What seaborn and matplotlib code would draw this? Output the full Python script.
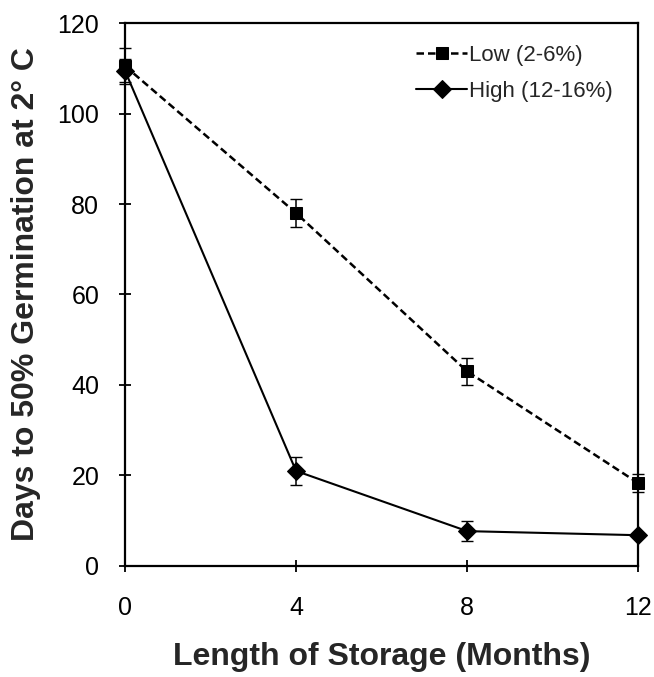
import pandas as pd
import matplotlib
matplotlib.use("Agg")
import matplotlib.pyplot as plt
import seaborn as sns

# storage months and mean days to 50% germination
months = [0, 4, 8, 12]
low_days = [110.5, 78, 43, 18.3]
low_err = [4, 3, 3, 2]
high_days = [109.5, 21, 7.7, 6.8]
high_err = [2.5, 3, 2.2, 0.5]

df = pd.concat([
    pd.DataFrame({"Months": months, "Days": low_days, "Moisture": "Low (2-6%)"}),
    pd.DataFrame({"Months": months, "Days": high_days, "Moisture": "High (12-16%)"}),
])

sns.set_theme(style="ticks")
plt.rcParams['font.family'] = ['Liberation Sans', 'DejaVu Sans']

fig = plt.figure(figsize=(6.54, 6.77), dpi=100)
ax = fig.add_axes([0.191, 0.164, 0.785, 0.802])

sns.lineplot(data=df, x="Months", y="Days", hue="Moisture", style="Moisture",
             markers={"Low (2-6%)": "s", "High (12-16%)": "D"},
             dashes={"Low (2-6%)": (3, 1.6), "High (12-16%)": ""},
             palette={"Low (2-6%)": "black", "High (12-16%)": "black"},
             markersize=9, linewidth=1.8, markeredgecolor="black", ax=ax)
for line in ax.lines:
    if line.get_linestyle() == "-":
        line.set_linewidth(1.5)

# error bars
ax.errorbar(months, low_days, yerr=low_err, fmt="none", ecolor="black",
            elinewidth=1.1, capsize=4)
ax.errorbar(months, high_days, yerr=high_err, fmt="none", ecolor="black",
            elinewidth=1.1, capsize=4)

ax.set_xlim(0, 12)
ax.set_ylim(0, 120)
ax.set_xticks([0, 4, 8, 12])
ax.set_yticks(range(0, 121, 20))
ax.tick_params(direction="inout", length=9, width=1.3, labelsize=18, colors="black")
ax.tick_params(axis="x", pad=17)
ax.tick_params(axis="y", pad=14)
for s in ax.spines.values():
    s.set_linewidth(1.6)
    s.set_color("black")
    s.set_visible(True)
ax.set_xlabel("Length of Storage (Months)", fontsize=23, fontweight="bold", labelpad=16)
ax.set_ylabel("Days to 50% Germination at 2\u00b0 C", fontsize=23, fontweight="bold", labelpad=12)

leg = ax.legend(loc="upper right", frameon=False, fontsize=16, handlelength=2.3,
                labelspacing=0.7, borderaxespad=0.5, handletextpad=0.1,
                bbox_to_anchor=(0.99, 0.997))
for line in ax.lines:
    line.set_clip_on(False)

fig.savefig("out.png", dpi=100)
